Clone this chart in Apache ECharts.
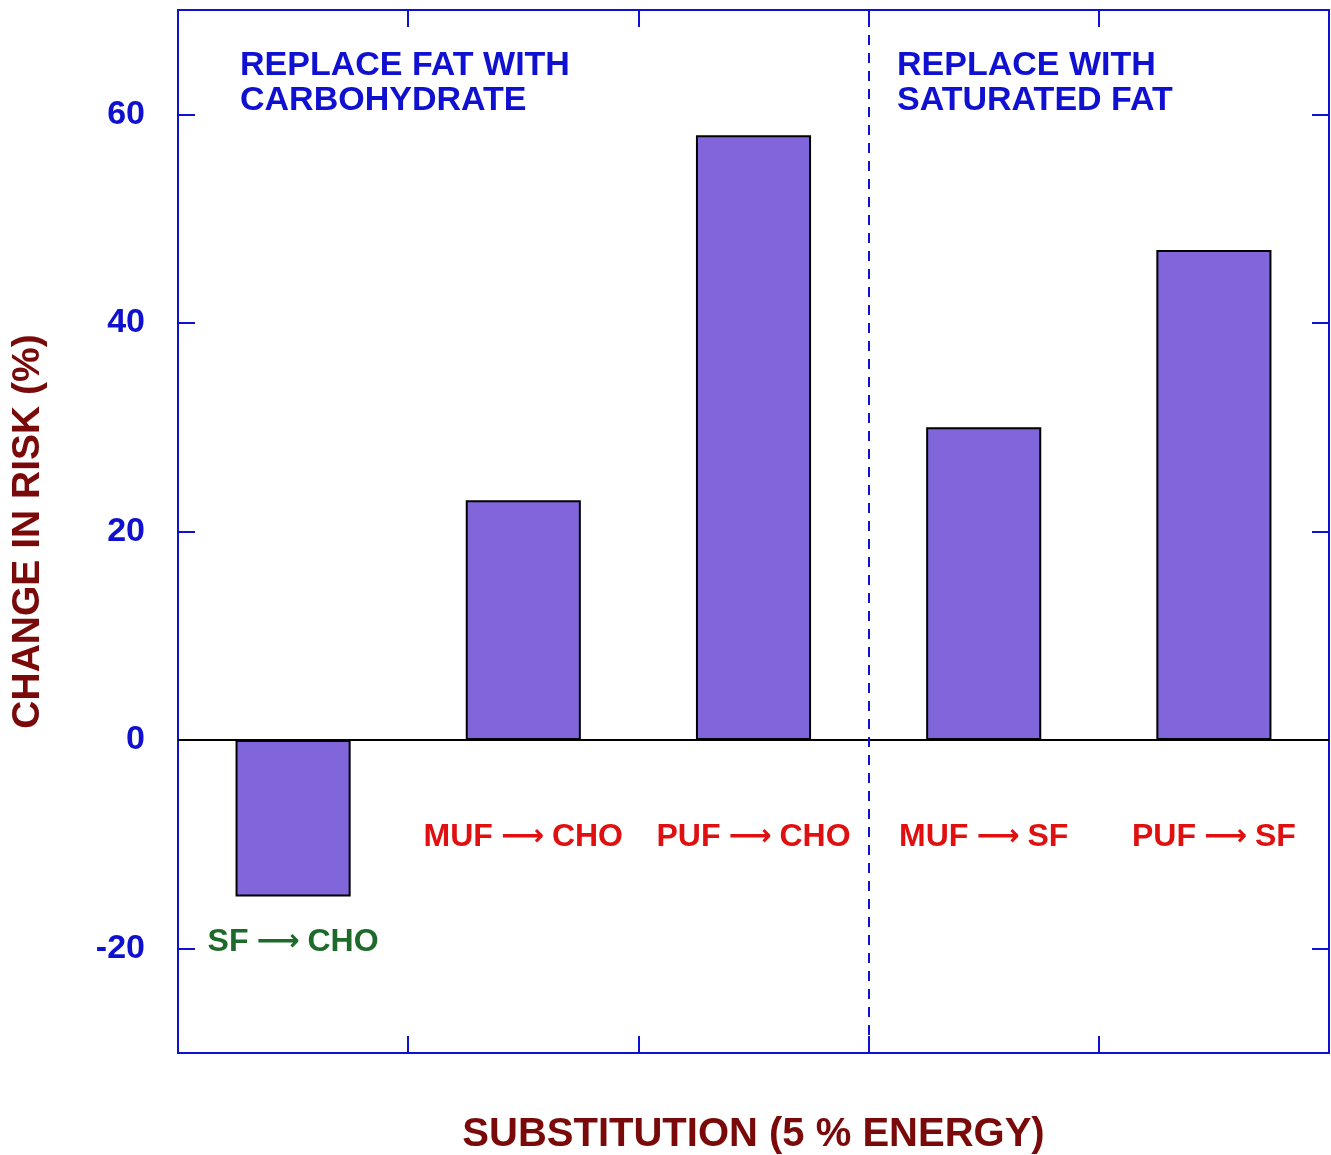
<!DOCTYPE html>
<html>
<head>
<meta charset="utf-8">
<script src="https://cdn.jsdelivr.net/npm/echarts@6/dist/echarts.min.js"></script>
<style>
html, body { margin: 0; padding: 0; background: #fff; }
#main { width: 1331px; height: 1155px; }
</style>
</head>
<body>
<div id="main"></div>
<script>
var categories = ['SF → CHO', 'MUF → CHO', 'PUF → CHO', 'MUF → SF', 'PUF → SF'];
var riskChange = [-15, 23, 58, 30, 47];
var yTicks = [-20, 0, 20, 40, 60];
var groupTitles = ['REPLACE FAT WITH\nCARBOHYDRATE', 'REPLACE WITH\nSATURATED FAT'];
var dividerAt = 3; // boundary between the two groups (in category units)

var font = '"Liberation Sans", Arial, sans-serif';
var blue = '#1010d0';
var darkRed = '#7a0a0a';

var myChart = echarts.init(document.getElementById('main'));

// "A → B" -> rich text so the arrow can be drawn longer
function arrowLabel(name) {
    var parts = name.split(' → ');
    return '{t|' + parts[0] + '}{a|⟶}{t|' + parts[1] + '}';
}

var barData = riskChange.map(function (v, i) {
    var neg = v < 0;
    var c = neg ? '#1e6a2a' : '#e01010';
    return {
        value: v,
        label: {
            show: true,
            position: 'bottom',
            distance: neg ? 31 : 82,
            formatter: arrowLabel(categories[i]),
            rich: {
                t: { color: c, fontSize: 32, lineHeight: 30, fontWeight: 'bold', fontFamily: font },
                a: { color: c, fontSize: 30, lineHeight: 30, fontWeight: 'bold', fontFamily: '"DejaVu Sans", sans-serif', padding: [0, 8, 0, 8] }
            }
        }
    };
});

var frameAxis = {
    axisLine: { show: true, onZero: false, lineStyle: { color: blue, width: 2 } },
    axisTick: { show: true, inside: true, length: 17, lineStyle: { color: blue, width: 2 } },
    splitLine: { show: false }
};

option = {
    animation: false,
    backgroundColor: '#fff',
    title: [
        {
            text: groupTitles[0], left: 235, top: 43,
            textStyle: { color: blue, fontSize: 34, fontWeight: 'bold', lineHeight: 35, fontFamily: font }
        },
        {
            text: groupTitles[1], left: 892, top: 43,
            textStyle: { color: blue, fontSize: 34, fontWeight: 'bold', lineHeight: 35, fontFamily: font }
        }
    ],
    grid: { left: 178, right: 2, top: 10, bottom: 102, outerBoundsMode: 'none', containLabel: false },
    xAxis: [
        Object.assign({}, frameAxis, {
            type: 'category', data: categories, position: 'bottom',
            axisLabel: { show: false },
            name: 'SUBSTITUTION (5 % ENERGY)',
            nameLocation: 'middle', nameGap: 62,
            nameTextStyle: { color: darkRed, fontSize: 40, fontWeight: 'bold', fontFamily: font }
        }),
        Object.assign({}, frameAxis, {
            type: 'category', data: categories, position: 'top',
            axisLabel: { show: false }
        }),
        { type: 'value', min: 0, max: categories.length, show: false }
    ],
    yAxis: [
        Object.assign({}, frameAxis, {
            type: 'value', min: -30, max: 70, position: 'left',
            axisTick: Object.assign({}, frameAxis.axisTick, { customValues: yTicks }),
            axisLabel: {
                customValues: yTicks, margin: 33,
                color: blue, fontSize: 34, fontWeight: 'bold', fontFamily: font
            },
            name: 'CHANGE IN RISK (%)',
            nameLocation: 'middle', nameRotate: 90, nameGap: 130,
            nameTextStyle: { color: darkRed, fontSize: 39, fontWeight: 'bold', fontFamily: font }
        }),
        Object.assign({}, frameAxis, {
            type: 'value', min: -30, max: 70, position: 'right',
            axisTick: Object.assign({}, frameAxis.axisTick, { customValues: yTicks }),
            axisLabel: { show: false }
        })
    ],
    series: [
        {
            type: 'bar',
            xAxisIndex: 0,
            yAxisIndex: 0,
            barWidth: '50%',
            data: barData,
            itemStyle: { color: '#8066da', borderColor: '#000', borderWidth: 2 },
            markLine: {
                silent: true, symbol: 'none',
                label: { show: false },
                lineStyle: { color: '#000', width: 2, type: 'solid' },
                data: [{ yAxis: 0 }]
            },
            z: 3
        },
        {
            type: 'line',
            xAxisIndex: 2,
            yAxisIndex: 0,
            data: [],
            markLine: {
                silent: true, symbol: 'none',
                label: { show: false },
                lineStyle: { color: blue, width: 2, type: [10, 8] },
                data: [{ xAxis: dividerAt }]
            }
        }
    ]
};

myChart.setOption(option);
</script>
</body>
</html>
